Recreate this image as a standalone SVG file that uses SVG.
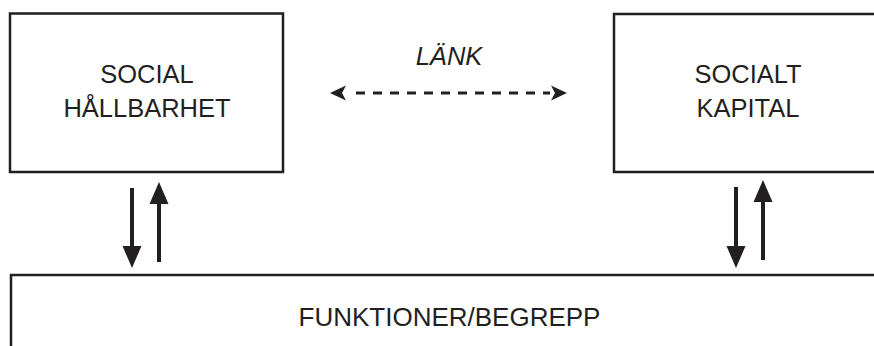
<svg xmlns="http://www.w3.org/2000/svg" width="874" height="346" viewBox="0 0 874 346">
  <style>
    .box { fill: #ffffff; stroke: #231f20; stroke-width: 2.5; }
    .lbl { font-family: "Liberation Sans", Arial, sans-serif; font-size: 25.5px; fill: #231f20; text-anchor: middle; }
    .shaft { stroke: #231f20; stroke-width: 4; fill: none; }
    .dash { stroke: #231f20; stroke-width: 3; stroke-dasharray: 9 8; fill: none; }
    .head { fill: #231f20; }
  </style>
  <rect width="874" height="346" fill="#ffffff"/>
  <g id="social-hallbarhet">
    <rect class="box" x="10" y="13.5" width="273" height="158.5"/>
    <text class="lbl" x="147" y="83">SOCIAL</text>
    <text class="lbl" x="147" y="117">HÅLLBARHET</text>
  </g>
  <g id="socialt-kapital">
    <rect class="box" x="614" y="14" width="280" height="158"/>
    <text class="lbl" x="748" y="83">SOCIALT</text>
    <text class="lbl" x="748" y="117">KAPITAL</text>
  </g>
  <g id="funktioner">
    <rect class="box" x="11" y="275" width="880" height="100"/>
    <text class="lbl" x="449.5" y="326" style="font-size:26px">FUNKTIONER/BEGREPP</text>
  </g>
  <g id="lank-label">
    <text class="lbl" x="449" y="65" font-style="italic">LÄNK</text>
  </g>
  <g id="connectors">
    <line class="dash" x1="356" y1="93" x2="550" y2="93"/>
    <path class="head" d="M330,93 L346,85.5 L342,93 L346,100.5 Z"/>
    <path class="head" d="M567,93 L551,85.5 L555,93 L551,100.5 Z"/>
    <line class="shaft" x1="132" y1="188" x2="132" y2="250"/>
    <path class="head" d="M122.5,246 L141.5,246 L132,268 Z"/>
    <line class="shaft" x1="159" y1="200" x2="159" y2="262"/>
    <path class="head" d="M149.5,204 L168.5,204 L159,182 Z"/>
    <line class="shaft" x1="736" y1="187" x2="736" y2="250"/>
    <path class="head" d="M726.5,246 L745.5,246 L736,268 Z"/>
    <line class="shaft" x1="763" y1="198" x2="763" y2="260"/>
    <path class="head" d="M753.5,202 L772.5,202 L763,180 Z"/>
  </g>
</svg>
